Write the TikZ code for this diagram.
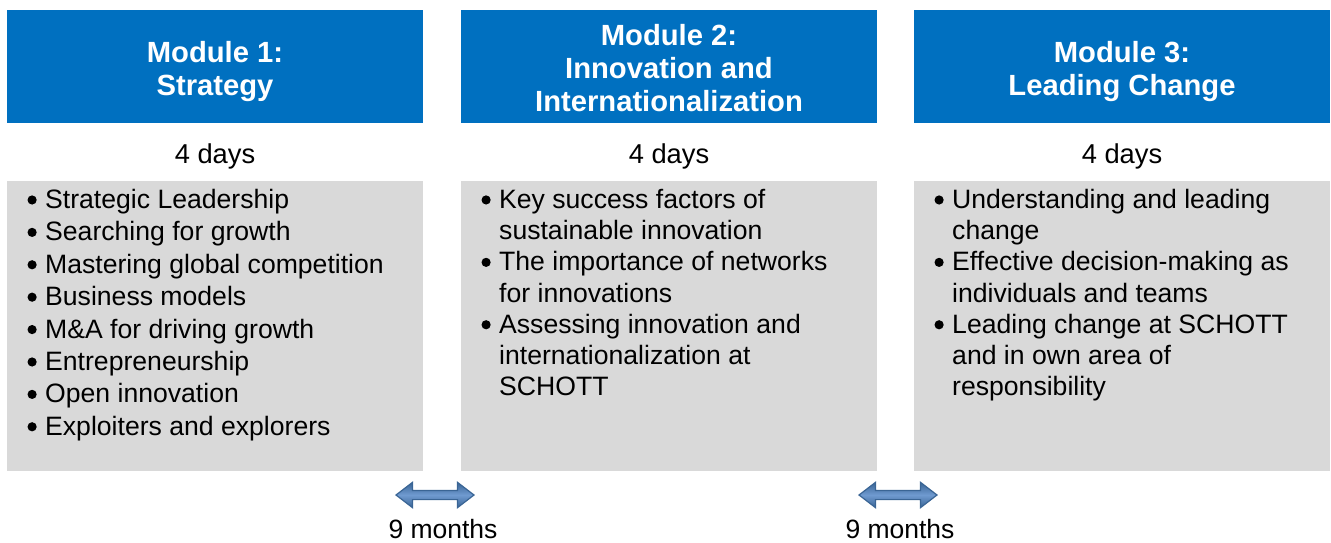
\documentclass[tikz,border=0pt]{standalone}
\usepackage{fontspec}
\setmainfont{Liberation Sans}
\usetikzlibrary{shapes.arrows}

\definecolor{modblue}{HTML}{0070C0}
\definecolor{boxgrey}{HTML}{D9D9D9}
\definecolor{arrowdark}{HTML}{3A6595}
\definecolor{arrowlight}{HTML}{6F9AD0}

\newcommand{\bl}{\llap{\tikz[baseline=-8.5pt]\fill (0,0) circle (4.6pt);\hspace{8.5pt}}}

\begin{document}
\begin{tikzpicture}[x=1pt,y=1pt,
    modhead/.style={rectangle, fill=modblue, minimum width=416, minimum height=113, inner sep=0},
    modtitle/.style={text=white, inner sep=0, align=center, text depth=0pt,
        font=\fontsize{29.2}{33}\selectfont\bfseries},
    daysnote/.style={font=\fontsize{27.3}{32}\selectfont, inner sep=0},
    monthsnote/.style={font=\fontsize{26.5}{32}\selectfont, inner sep=0},
    topicbox/.style={rectangle, fill=boxgrey, minimum width=416, minimum height=290, inner sep=0},
    topics/.style={anchor=north west, align=left, inner sep=0},
    gaparrow/.style={double arrow, draw=arrowdark, line width=1.2pt,
        top color=arrowdark, bottom color=arrowdark, middle color=arrowlight,
        minimum height=78, minimum width=24, inner xsep=0, inner ysep=4,
        double arrow head extend=8, double arrow tip angle=75},
    ]
    \useasboundingbox (0,0) rectangle (1331,-543);

    % module headers
    \node[modhead] (mod1) at (215,-66.5) {};
    \node[modhead] (mod2) at (669,-66.5) {};
    \node[modhead] (mod3) at (1122,-66.5) {};
    \node[modtitle] (title1) at ([yshift=-1.8]mod1.center) {Module 1:\\Strategy};
    \node[modtitle] (title2) at ([yshift=-1.8]mod2.center) {Module 2:\\Innovation and\\Internationalization};
    \node[modtitle] (title3) at ([yshift=-1.8]mod3.center) {Module 3:\\Leading Change};

    \node[daysnote] (days1) at (215,-156) {4 days};
    \node[daysnote] (days2) at (669,-156) {4 days};
    \node[daysnote] (days3) at (1122,-156) {4 days};

    % contents
    \node[topicbox] (box1) at (215,-326) {};
    \node[topicbox] (box2) at (669,-326) {};
    \node[topicbox] (box3) at (1122,-326) {};

    \node[topics, font=\fontsize{26.6}{32.4}\selectfont] (list1) at (45,-189)
        {\bl Strategic Leadership\\ \bl Searching for growth\\ \bl Mastering global competition\\
         \bl Business models\\ \bl M\&A for driving growth\\ \bl Entrepreneurship\\
         \bl Open innovation\\ \bl Exploiters and explorers};
    \node[topics, font=\fontsize{26.6}{31.2}\selectfont] (list2) at (499,-189)
        {\bl Key success factors of\\ sustainable innovation\\ \bl The importance of networks\\
         for innovations\\ \bl Assessing innovation and\\ internationalization at\\ SCHOTT};
    \node[topics, font=\fontsize{26.6}{31.2}\selectfont] (list3) at (952,-189)
        {\bl Understanding and leading\\ change\\ \bl Effective decision-making as\\
         individuals and teams\\ \bl Leading change at SCHOTT\\ and in own area of\\ responsibility};

    % time between modules
    \node[gaparrow] (gap1) at (435,-495) {};
    \node[gaparrow] (gap2) at (898,-495) {};
    \node[monthsnote] (months1) at (443,-529.5) {9 months};
    \node[monthsnote] (months2) at (900,-529.5) {9 months};
\end{tikzpicture}
\end{document}
